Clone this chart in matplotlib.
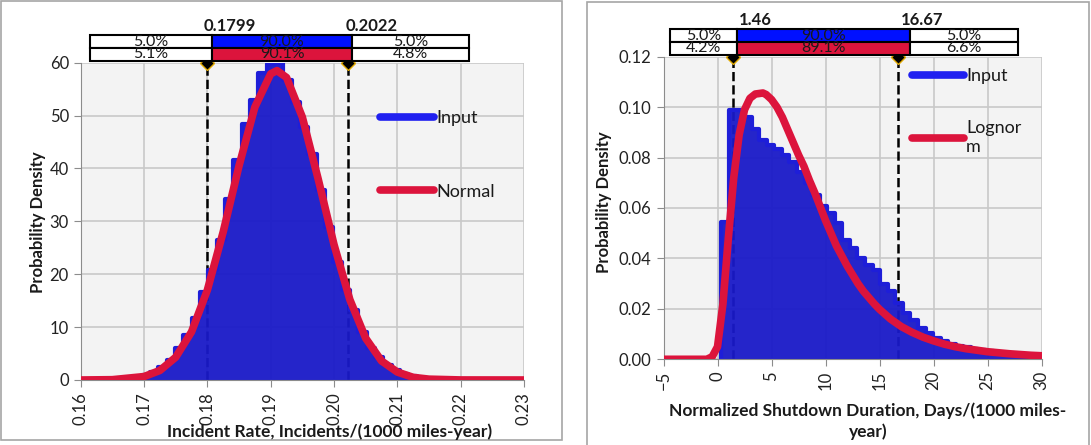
import matplotlib.pyplot as plt
import matplotlib.patches as patches
import numpy as np

plt.rcParams['font.family'] = ['Lato', 'DejaVu Sans']

# ---------------- data: left panel (incident rate) ----------------
rate_bin_start = 0.16568
rate_bin_width = 0.0013158
rate_hist = [0.2, 0.35, 0.6, 1.0, 1.6, 2.5, 3.8, 6.0, 8.5, 11.7, 16.7, 20.8, 26.5,
             34.3, 41.6, 48.5, 52.9, 58.0, 59.7, 59.9, 56.7, 52.6, 47.9, 42.8, 35.9,
             29.0, 22.4, 17.0, 13.2, 9.1, 6.0, 4.4, 2.8, 1.9, 1.2, 0.7, 0.4, 0.25, 0.15]
rate_fit_x = [0.160, 0.165, 0.170, 0.1725, 0.175, 0.1775, 0.180, 0.1825, 0.185, 0.1875,
              0.190, 0.191, 0.1925, 0.195, 0.1975, 0.200, 0.2025, 0.205, 0.2075, 0.210,
              0.2125, 0.215, 0.220, 0.230]
rate_fit_y = [0.0, 0.06, 0.65, 1.8, 4.3, 9.1, 17.0, 28.0, 40.5, 51.6,
              57.9, 58.5, 57.2, 49.7, 38.0, 25.6, 15.2, 7.9, 3.6, 1.5,
              0.5, 0.16, 0.01, 0.0]
rate_marks = [0.1799, 0.2022]
rate_pct_input = ['5.0%', '90.0%', '5.0%']
rate_pct_fit = ['5.1%', '90.1%', '4.8%']

# ---------------- data: right panel (shutdown duration) ----------------
dur_bin_start = 0.35
dur_bin_width = 0.70
dur_hist = [0.0546, 0.099, 0.099, 0.096, 0.0915, 0.087, 0.085, 0.0833, 0.081, 0.0784,
            0.0744, 0.070, 0.065, 0.0606, 0.058, 0.054, 0.0473, 0.044, 0.040, 0.0374,
            0.0354, 0.030, 0.027, 0.0222, 0.0182, 0.0156, 0.0123, 0.0103, 0.0085, 0.0072,
            0.0062, 0.0054, 0.0047, 0.0041, 0.0036, 0.0031, 0.0027, 0.0024, 0.0021, 0.0018,
            0.0015]
dur_fit_x = [-5, -2, -1, -0.5, 0, 0.5, 1.0, 1.5, 2.0, 2.5, 3.0, 3.5, 4.2, 4.5, 5.0, 5.5,
             6.0, 6.5, 7.0, 7.5, 8.0, 8.5, 9.0, 9.5, 10, 10.5, 11, 11.5, 12, 12.5, 13,
             13.5, 14, 14.5, 15, 16, 17, 18, 19, 20, 21, 22, 23, 24, 25, 26, 27, 28, 29, 30]
dur_fit_y = [0, 0, 0, 0.001, 0.005, 0.022, 0.048, 0.072, 0.089, 0.099, 0.1035, 0.1052,
             0.1056, 0.105, 0.103, 0.100, 0.096, 0.091, 0.086, 0.081, 0.0765, 0.071,
             0.066, 0.0605, 0.055, 0.050, 0.045, 0.041, 0.037, 0.0335, 0.030, 0.027,
             0.0245, 0.022, 0.0198, 0.016, 0.013, 0.0107, 0.0088, 0.0073, 0.006, 0.005,
             0.0042, 0.0036, 0.003, 0.0026, 0.0022, 0.0019, 0.0016, 0.0014]
dur_marks = [1.46, 16.67]
dur_pct_input = ['5.0%', '90.0%', '5.0%']
dur_pct_fit = ['4.2%', '89.1%', '6.6%']

W, H = 1091, 445
BLUE_FILL = '#1a1ac8'
BLUE_EDGE = '#1e1ed8'
BLUE_LINE = '#2020f0'
RED = '#dc143c'
TXT = '#1a1a1a'

fig = plt.figure(figsize=(W / 100, H / 100), dpi=100)


def fx(px):
    return px / W


def fy(py):
    return 1 - py / H


def style_axes(ax):
    ax.set_facecolor('#f3f3f3')
    ax.grid(True, color='#c8c8c8', linewidth=1.2, zorder=0)
    ax.set_axisbelow(True)
    for s in ['top', 'right']:
        ax.spines[s].set_visible(False)
    for s in ['left', 'bottom']:
        ax.spines[s].set_color('#8c8c8c')
    ax.tick_params(labelsize=12, colors='#8c8c8c', labelcolor='#222222', length=5)
    plt.setp(ax.get_xticklabels(), rotation=90)


def draw_panel(ax, edges, hist, fit_x, fit_y, marks, name, ymax):
    ax.stairs(hist, edges, fill=True, color=BLUE_FILL, alpha=0.95, zorder=2)
    ax.stairs(hist, edges, color=BLUE_EDGE, linewidth=3, joinstyle='round', zorder=2)
    for m in marks:
        ax.plot([m, m], [0, ymax], '--', color='black', linewidth=1.8, zorder=1)
        ax.plot([m], [ymax], 'D', color='black', markeredgecolor='#e0a800',
                markersize=7, clip_on=False, zorder=6)
    ax.plot(fit_x, fit_y, color=RED, linewidth=5.5, solid_capstyle='round',
            solid_joinstyle='round', zorder=4, label=name)


def pct_boxes(x0, x1, x2, x3, y0, y1, y2, row1, row2):
    for (ya, yb), row, mid in [((y0, y1), row1, '#0010ff'), ((y1, y2), row2, RED)]:
        for (xa, xb), txt, col in zip([(x0, x1), (x1, x2), (x2, x3)], row,
                                      ['white', mid, 'white']):
            fig.patches.append(patches.Rectangle((fx(xa), fy(yb)), fx(xb - xa), (yb - ya) / H,
                                                 transform=fig.transFigure, facecolor=col,
                                                 edgecolor='black', linewidth=1.5))
            fig.text(fx((xa + xb) / 2), fy((ya + yb) / 2), txt, ha='center',
                     va='center', fontsize=11.5, color=TXT)


# ---------------- left panel ----------------
ax1 = fig.add_axes([fx(80.7), fy(380), fx(524 - 80.7), (380 - 62.7) / H])
edges1 = rate_bin_start + rate_bin_width * np.arange(len(rate_hist) + 1)
ax1.plot([], [], color=BLUE_LINE, linewidth=5.5, solid_capstyle='round', label='Input')
draw_panel(ax1, edges1, rate_hist, rate_fit_x, rate_fit_y, rate_marks, 'Normal', 60)
ax1.set_xlim(0.16, 0.23)
ax1.set_ylim(0, 60)
ax1.set_xticks(np.arange(0.16, 0.2301, 0.01))
ax1.set_xticklabels(['%.2f' % v for v in np.arange(0.16, 0.2301, 0.01)])
ax1.set_yticks(np.arange(0, 61, 10))
style_axes(ax1)
ax1.legend(loc='upper left', bbox_to_anchor=(0.675, 0.851), frameon=False, fontsize=13,
           handlelength=3.0, handletextpad=0.1, labelspacing=3.2, borderpad=0,
           borderaxespad=0, labelcolor=TXT)

# ---------------- right panel ----------------
ax2 = fig.add_axes([fx(663.5), fy(359.3), fx(1041.7 - 663.5), (359.3 - 56.7) / H])
edges2 = dur_bin_start + dur_bin_width * np.arange(len(dur_hist) + 1)
ax2.plot([], [], color=BLUE_LINE, linewidth=5.5, solid_capstyle='round', label='Input')
draw_panel(ax2, edges2, dur_hist, dur_fit_x, dur_fit_y, dur_marks, 'Lognor\nm', 0.12)
ax2.set_xlim(-5, 30)
ax2.set_ylim(0, 0.12)
ax2.set_xticks(np.arange(-5, 31, 5))
ax2.set_yticks(np.arange(0, 0.1201, 0.02))
ax2.set_yticklabels(['%.2f' % v for v in np.arange(0, 0.1201, 0.02)])
style_axes(ax2)
ax2.legend(loc='upper left', bbox_to_anchor=(0.657, 0.962), frameon=False, fontsize=13,
           handlelength=2.9, handletextpad=0.1, labelspacing=2.0, borderpad=0,
           borderaxespad=0, labelcolor=TXT)

# ---------------- percentile strips ----------------
pct_boxes(90, 212, 352, 469, 35, 48, 61, rate_pct_input, rate_pct_fit)
fig.text(fx(204), fy(26), '%.4f' % rate_marks[0], fontsize=12, fontweight='bold',
         va='center', color=TXT)
fig.text(fx(346), fy(26), '%.4f' % rate_marks[1], fontsize=12, fontweight='bold',
         va='center', color=TXT)

pct_boxes(670, 737, 910, 1018, 29, 42, 55, dur_pct_input, dur_pct_fit)
fig.text(fx(739), fy(20), '%.2f' % dur_marks[0], fontsize=12, fontweight='bold',
         va='center', color=TXT)
fig.text(fx(901), fy(20), '%.2f' % dur_marks[1], fontsize=12, fontweight='bold',
         va='center', color=TXT)

# ---------------- axis titles ----------------
fig.text(fx(330), fy(432), 'Incident Rate, Incidents/(1000 miles-year)', ha='center',
         va='center', fontsize=12.5, fontweight='bold', color=TXT)
fig.text(fx(868), fy(421), 'Normalized Shutdown Duration, Days/(1000 miles-\nyear)',
         ha='center', va='center', fontsize=12.5, fontweight='bold', color=TXT,
         linespacing=1.35)
fig.text(fx(38), fy(222), 'Probability Density', rotation=90, ha='center', va='center',
         fontsize=12, fontweight='bold', color=TXT)
fig.text(fx(604), fy(202), 'Probability Density', rotation=90, ha='center', va='center',
         fontsize=12, fontweight='bold', color=TXT)

# ---------------- chart frames ----------------
for x0, y0, x1, y1 in [(1, 1, 562, 440), (587, 2, 1089, 447)]:
    fig.patches.append(patches.Rectangle((fx(x0), fy(y1)), fx(x1 - x0), (y1 - y0) / H,
                                         transform=fig.transFigure, fill=False,
                                         edgecolor='#a6a6a6', linewidth=1.2))

fig.savefig('out.png', dpi=100)
